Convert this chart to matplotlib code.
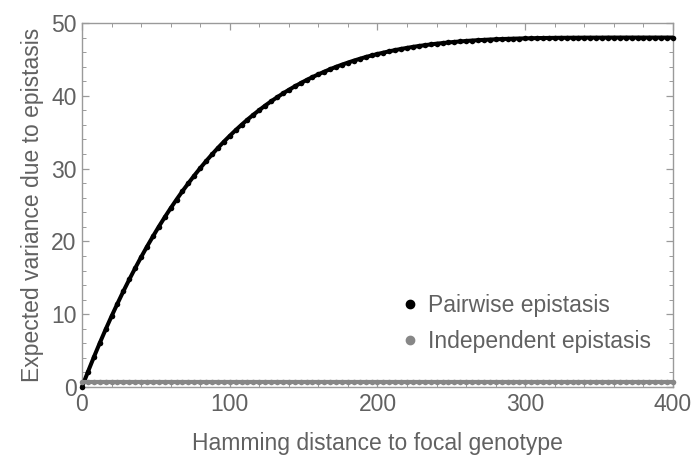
import matplotlib
matplotlib.use("Agg")
import matplotlib.pyplot as plt
from matplotlib.lines import Line2D
from matplotlib.ticker import MultipleLocator

# Hamming distance (sampled every 4 units)
distance = list(range(0, 401, 4))

# Expected variance due to pairwise epistasis
pairwise = [
    0.00, 2.08, 4.09, 6.03, 7.91, 9.72, 11.46, 13.15, 14.77, 16.33,
    17.84, 19.29, 20.68, 22.03, 23.32, 24.56, 25.75, 26.90, 27.99, 29.05,
    30.06, 31.03, 31.95, 32.84, 33.69, 34.50, 35.28, 36.02, 36.73, 37.40,
    38.04, 38.66, 39.24, 39.79, 40.32, 40.82, 41.29, 41.74, 42.17, 42.57,
    42.95, 43.31, 43.66, 43.98, 44.28, 44.56, 44.83, 45.08, 45.32, 45.54,
    45.74, 45.93, 46.11, 46.28, 46.44, 46.58, 46.72, 46.84, 46.95, 47.06,
    47.16, 47.24, 47.33, 47.40, 47.47, 47.53, 47.59, 47.64, 47.68, 47.73,
    47.76, 47.80, 47.82, 47.85, 47.87, 47.89, 47.91, 47.93, 47.94, 47.95,
    47.96, 47.97, 47.97, 47.98, 47.98, 47.99, 47.99, 47.99, 47.99, 48.00,
    48.00, 48.00, 48.00, 48.00, 48.00, 48.00, 48.00, 48.00, 48.00, 48.00,
    48.00,
]

# Expected variance due to independent epistasis (flat level)
independent_level = 0.65
independent = [independent_level] * len(distance)

series_labels = ["Pairwise epistasis", "Independent epistasis"]
xlabel = "Hamming distance to focal genotype"
ylabel = "Expected variance due to epistasis"

plt.rcParams['font.family'] = ['Liberation Sans', 'DejaVu Sans']
TEXT = "#616161"
FRAME = "#9a9a9a"
GRAY = "#878787"

fig = plt.figure(figsize=(6.94, 4.58), dpi=100)
ax = fig.add_axes([82/694, 1 - 387/458, (673-82)/694, (387-23)/458])

ax.plot(distance, pairwise, color="black", lw=2.9, marker="o", ms=4.0,
        markeredgewidth=0, zorder=3, clip_on=False, solid_capstyle="butt")
ax.plot(distance, independent, color=GRAY, lw=3.0, marker="o", ms=4.0,
        markeredgewidth=0, zorder=4, clip_on=False, solid_capstyle="butt")

ax.set_xlim(0, 400)
ax.set_ylim(0, 50)
ax.xaxis.set_major_locator(MultipleLocator(100))
ax.xaxis.set_minor_locator(MultipleLocator(20))
ax.yaxis.set_major_locator(MultipleLocator(10))
ax.yaxis.set_minor_locator(MultipleLocator(2))

for s in ax.spines.values():
    s.set_color(FRAME)
    s.set_linewidth(1.0)

ax.tick_params(which="both", direction="in", top=True, right=True,
               color=FRAME, labelcolor=TEXT, labelsize=16.5)
ax.tick_params(which="major", length=5, width=0.9, pad=4)
ax.tick_params(which="minor", length=2.6, width=0.7)

ax.set_xlabel(xlabel, fontsize=16.5, color=TEXT, labelpad=12)
ax.set_ylabel(ylabel, fontsize=16.5, color=TEXT, labelpad=5)

handles = [
    Line2D([], [], ls="none", marker="o", ms=6, color="black"),
    Line2D([], [], ls="none", marker="o", ms=6, color=GRAY),
]
leg = ax.legend(handles, series_labels, loc="center left",
                bbox_to_anchor=(0.52, 0.175), frameon=False, fontsize=16.5,
                handletextpad=0.3, labelspacing=0.55, handlelength=1.0,
                borderaxespad=0)
for t in leg.get_texts():
    t.set_color(TEXT)

fig.savefig("out.png", dpi=100)
